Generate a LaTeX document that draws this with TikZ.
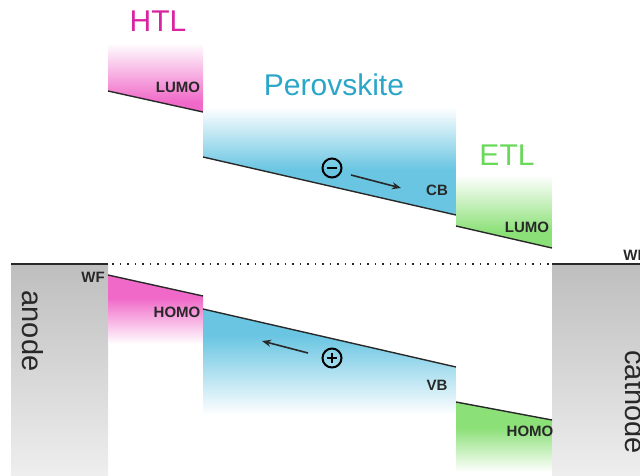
\documentclass[tikz,border=0pt]{standalone}
\usepackage{fontspec}
\setmainfont{Liberation Sans}
\usetikzlibrary{arrows.meta}
\definecolor{htlc}{RGB}{240,105,200}
\definecolor{htlt}{RGB}{216,36,160}
\definecolor{perc}{RGB}{105,197,226}
\definecolor{pert}{RGB}{43,166,201}
\definecolor{etlc}{RGB}{140,224,120}
\definecolor{etlt}{RGB}{106,216,90}
\definecolor{metal}{RGB}{190,190,190}
\definecolor{metallight}{RGB}{238,238,238}
\definecolor{ink}{RGB}{40,40,40}
\begin{document}
\begin{tikzpicture}[x=1pt,y=-1pt,
  band/.style={draw=ink,line width=1.4pt},
  small/.style={font=\bfseries\fontsize{15}{18}\selectfont,text=ink,inner sep=0pt},
  big/.style={font=\fontsize{30}{36}\selectfont,inner sep=0pt},
  elec/.style={font=\fontsize{29}{34}\selectfont,text=ink,inner sep=0pt,rotate=-90},
  charge/.style={circle,draw=black,line width=2pt,minimum size=19pt,inner sep=0pt},
  sign/.style={line width=2.4pt,black},
  move/.style={line width=1.6pt,ink,-{Stealth[length=9pt,width=7pt]}}]
\useasboundingbox (0,0) rectangle (640,475);
\clip (0,0) rectangle (640,475);
% electrodes
\shade[top color=metal,bottom color=metallight] (11,264) rectangle (108,475);
\shade[top color=metal,bottom color=metallight] (552,264) rectangle (640,475);
\draw[ink,line width=1.4pt] (11,264) -- (108,264);
\draw[ink,line width=1.4pt] (552,264) -- (640,264);
\draw[ink,line width=1.2pt,dash pattern=on 1.5pt off 6pt] (112,264) -- (552,264);
% HTL upper
\begin{scope}
\clip (108,43) -- (203,43) -- (203,112) -- (108,91) -- cycle;
\shade[top color=white,bottom color=htlc] (108,43) rectangle (203,102);
\fill[htlc] (108,101.5) rectangle (203,113);
\end{scope}
\draw[band] (108,91) -- (203,112);
% Perovskite upper
\begin{scope}
\clip (203,107) -- (456,107) -- (456,215) -- (203,157) -- cycle;
\shade[top color=white,bottom color=perc] (203,107) rectangle (456,170);
\fill[perc] (203,169.5) rectangle (456,216);
\end{scope}
\draw[band] (203,157) -- (456,215);
% ETL upper
\begin{scope}
\clip (456,175) -- (552,175) -- (552,248) -- (456,226) -- cycle;
\shade[top color=white,bottom color=etlc] (456,175) rectangle (552,232);
\fill[etlc] (456,231.5) rectangle (552,249);
\end{scope}
\draw[band] (456,226) -- (552,248);
% HTL lower
\begin{scope}
\clip (108,275) -- (203,296) -- (203,348) -- (108,348) -- cycle;
\fill[htlc] (108,274) rectangle (203,298.5);
\shade[top color=htlc,bottom color=white] (108,298) rectangle (203,344);
\end{scope}
\draw[band] (108,275) -- (203,296);
% Perovskite lower
\begin{scope}
\clip (203,309) -- (456,367) -- (456,418) -- (203,418) -- cycle;
\fill[perc] (203,308) rectangle (456,335.5);
\shade[top color=perc,bottom color=white] (203,335) rectangle (456,415);
\end{scope}
\draw[band] (203,309) -- (456,367);
% ETL lower
\begin{scope}
\clip (456,402) -- (552,420) -- (552,475) -- (456,475) -- cycle;
\fill[etlc] (456,401) rectangle (552,428.5);
\shade[top color=etlc,bottom color=white] (456,428) rectangle (552,472);
\end{scope}
\draw[band] (456,402) -- (552,420);
% titles
\node[big,text=htlt] (htl) at (158,21) {HTL};
\node[big,text=pert] (pero) at (334,85) {Perovskite};
\node[big,text=etlt] (etl) at (507,155) {ETL};
% level labels
\node[small] (lumo1) at (178,87) {LUMO};
\node[small] (cb) at (437,190) {CB};
\node[small] (lumo2) at (527,227) {LUMO};
\node[small] (wf1) at (93,277) {WF};
\node[small] (wf2) at (635,255) {WF};
\node[small] (homo1) at (177,312) {HOMO};
\node[small] (vb) at (437,385) {VB};
\node[small] (homo2) at (530,431) {HOMO};
% electrodes text
\node[elec] (anode) at (33,331) {anode};
\node[elec] (cathode) at (636,402) {cathode};
% charges
\node[charge] (em) at (332,168) {};
\draw[sign] ([xshift=-4.8pt]em.center) -- ([xshift=4.8pt]em.center);
\node[charge] (hp) at (332,358) {};
\draw[sign] ([xshift=-4.8pt]hp.center) -- ([xshift=4.8pt]hp.center);
\draw[sign] ([yshift=-4.8pt]hp.center) -- ([yshift=4.8pt]hp.center);
\coordinate (e1) at (351,175);
\coordinate (e2) at (401,188);
\draw[move] (e1) -- (e2);
\coordinate (h1) at (308,353);
\coordinate (h2) at (262,341);
\draw[move] (h1) -- (h2);
\end{tikzpicture}
\end{document}
